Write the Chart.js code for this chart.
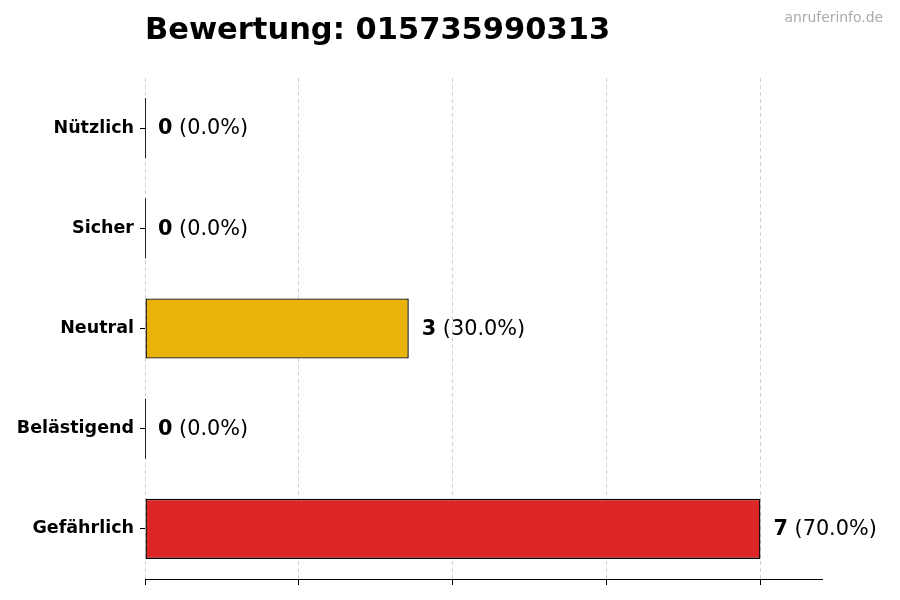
<!DOCTYPE html>
<html lang="de">
<head>
    <meta charset="UTF-8">
    <title>Bewertung: 015735990313</title>
    <script src="https://cdn.jsdelivr.net/npm/chart.js"></script>
    <style>
        html, body { margin: 0; padding: 0; background: #fff; }
        #wrap { width: 900px; height: 600px; }
    </style>
</head>
<body>
<div id="wrap"><canvas id="ratingChart"></canvas></div>

<script>
    const titleText = 'Bewertung: 015735990313';
    const watermark = 'anruferinfo.de';
    const categories = ['Nützlich', 'Sicher', 'Neutral', 'Belästigend', 'Gefährlich'];
    const counts = [0, 0, 3, 0, 7];
    const barColors = ['#16A34A', '#2563EB', '#EAB308', '#F97316', '#DC2626'];
    const xTicks = [0, 1.75, 3.5, 5.25, 7];
    const xMax = 7.7;

    const FONT = '"DejaVu Sans", sans-serif';
    const total = counts.reduce((a, b) => a + b, 0);

    // Titel, Wasserzeichen, Werte neben den Balken
    const annotate = {
        id: 'annotate',
        afterDatasetsDraw(chart) {
            // Nullbalken als dünne Kante zeigen
            const ctx = chart.ctx;
            const meta = chart.getDatasetMeta(0);
            ctx.save();
            ctx.strokeStyle = '#222';
            ctx.lineWidth = 1;
            meta.data.forEach((bar, i) => {
                if (counts[i] !== 0) return;
                const p = bar.getProps(['x', 'y', 'height'], true);
                ctx.beginPath();
                ctx.moveTo(p.x + 0.5, p.y - p.height / 2);
                ctx.lineTo(p.x + 0.5, p.y + p.height / 2);
                ctx.stroke();
            });
            ctx.restore();
        },
        afterDraw(chart) {
            const ctx = chart.ctx;
            const area = chart.chartArea;
            ctx.save();

            ctx.fillStyle = '#000';
            ctx.font = 'bold 30.5px ' + FONT;
            ctx.textAlign = 'left';
            ctx.textBaseline = 'middle';
            ctx.fillText(titleText, area.left, 31);

            ctx.fillStyle = '#aaaaaa';
            ctx.font = '13.9px ' + FONT;
            ctx.textAlign = 'right';
            ctx.fillText(watermark, 883, 18);

            const meta = chart.getDatasetMeta(0);
            meta.data.forEach((bar, i) => {
                const p = bar.getProps(['x', 'y'], true);
                const pct = total ? (counts[i] / total * 100).toFixed(1) : '0.0';
                const x0 = p.x + 13;
                ctx.textAlign = 'left';
                ctx.fillStyle = '#000';
                ctx.font = 'bold 20.8px ' + FONT;
                const v = String(counts[i]);
                ctx.fillText(v, x0, p.y + 1);
                const w = ctx.measureText(v).width;
                ctx.font = '20.8px ' + FONT;
                ctx.fillText(' (' + pct + '%)', x0 + w, p.y + 1);
            });
            ctx.restore();
        }
    };

    const ctx = document.getElementById('ratingChart').getContext('2d');
    new Chart(ctx, {
        type: 'bar',
        data: {
            labels: categories,
            datasets: [{
                data: counts,
                backgroundColor: barColors,
                borderColor: '#000',
                borderWidth: 1.4,
                borderSkipped: false,
                barPercentage: 0.6,
                categoryPercentage: 1.0
            }]
        },
        options: {
            indexAxis: 'y',
            responsive: true,
            maintainAspectRatio: false,
            animation: false,
            layout: {
                padding: { top: 78, right: 78, left: 0, bottom: 0 }
            },
            plugins: {
                legend: { display: false },
                title: { display: false },
                tooltip: { enabled: false }
            },
            scales: {
                x: {
                    min: 0,
                    max: xMax,
                    z: 1,
                    afterBuildTicks: (scale) => {
                        scale.ticks = xTicks.map(v => ({ value: v }));
                    },
                    afterFit: (scale) => { scale.height = 21; },
                    ticks: { display: false },
                    grid: {
                        color: 'rgba(180,180,180,0.6)',
                        lineWidth: 1,
                        drawTicks: true,
                        tickLength: 6,
                        tickColor: '#000',
                        tickWidth: 1
                    },
                    border: {
                        display: true,
                        color: '#000',
                        width: 1,
                        dash: [4, 3]
                    }
                },
                y: {
                    afterFit: (scale) => { scale.width = 145; },
                    ticks: {
                        color: '#000',
                        padding: 6,
                        font: { family: FONT, size: 17.5, weight: 'bold' }
                    },
                    grid: {
                        offset: false,
                        drawOnChartArea: false,
                        drawTicks: true,
                        tickLength: 5,
                        tickColor: '#000'
                    },
                    border: { display: false }
                }
            }
        },
        plugins: [annotate]
    });
</script>
</body>
</html>
